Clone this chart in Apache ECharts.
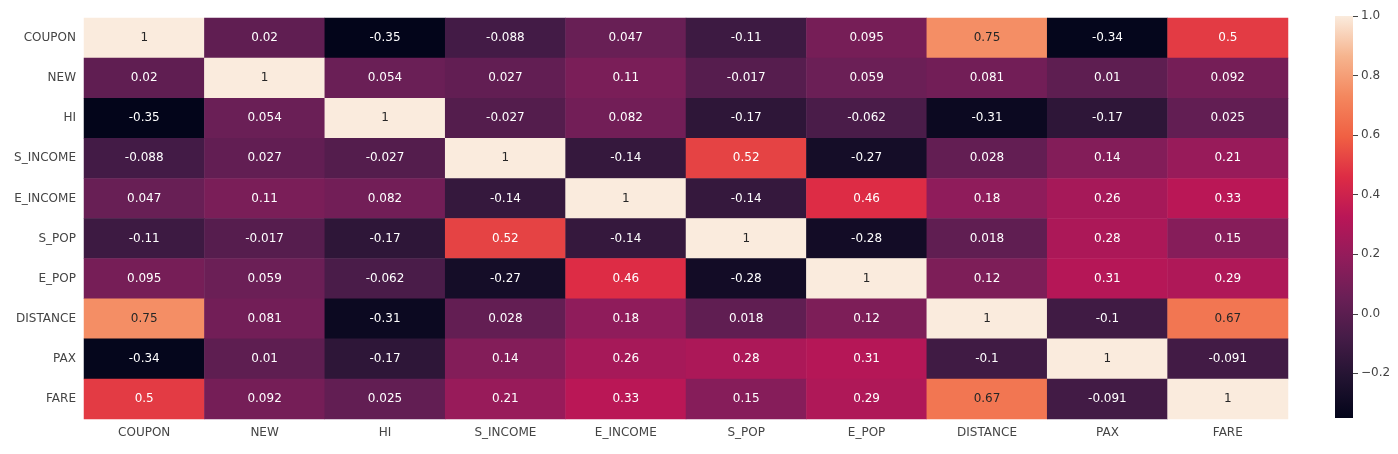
<!DOCTYPE html>
<html>
<head>
<meta charset="utf-8">
<script src="https://cdn.jsdelivr.net/npm/echarts@6/dist/echarts.min.js"></script>
<style>html,body{margin:0;background:#fff}#chart{width:1398px;height:454px}</style>
</head>
<body>
<div id="chart"></div>
<script>
const labels = ['COUPON', 'NEW', 'HI', 'S_INCOME', 'E_INCOME', 'S_POP', 'E_POP', 'DISTANCE', 'PAX', 'FARE'];
const corr = [
  [1, 0.02, -0.35, -0.088, 0.047, -0.11, 0.095, 0.75, -0.34, 0.5],
  [0.02, 1, 0.054, 0.027, 0.11, -0.017, 0.059, 0.081, 0.01, 0.092],
  [-0.35, 0.054, 1, -0.027, 0.082, -0.17, -0.062, -0.31, -0.17, 0.025],
  [-0.088, 0.027, -0.027, 1, -0.14, 0.52, -0.27, 0.028, 0.14, 0.21],
  [0.047, 0.11, 0.082, -0.14, 1, -0.14, 0.46, 0.18, 0.26, 0.33],
  [-0.11, -0.017, -0.17, 0.52, -0.14, 1, -0.28, 0.018, 0.28, 0.15],
  [0.095, 0.059, -0.062, -0.27, 0.46, -0.28, 1, 0.12, 0.31, 0.29],
  [0.75, 0.081, -0.31, 0.028, 0.18, 0.018, 0.12, 1, -0.1, 0.67],
  [-0.34, 0.01, -0.17, 0.14, 0.26, 0.28, 0.31, -0.1, 1, -0.091],
  [0.5, 0.092, 0.025, 0.21, 0.33, 0.15, 0.29, 0.67, -0.091, 1]
];
const barTicks = [-0.2, 0, 0.2, 0.4, 0.6, 0.8, 1.0];
const vmin = -0.35, vmax = 1;
const rocket = ['#03051a', '#221331', '#451c47', '#6a1f56', '#921c5b', '#b91657', '#dd2c45', '#f06043', '#f4875e', '#f6b48e', '#faebdd'];

const cells = [];
corr.forEach((row, i) => row.forEach((v, j) => {
  cells.push({value: [j, i, v], label: {color: v > 0.6 ? '#262626' : '#ffffff'}});
}));

const chart = echarts.init(document.getElementById('chart'));
const axisText = {color: '#444', fontSize: 12, fontFamily: 'DejaVu Sans'};
chart.setOption({
  backgroundColor: '#ffffff',
  grid: [
    {left: 84, right: 110, top: 18, bottom: 35},
    {left: 1335, width: 18, top: 16, bottom: 36}
  ],
  xAxis: [
    {type: 'category', data: labels, gridIndex: 0, axisLine: {show: false},
     axisTick: {length: 5, lineStyle: {color: '#444'}}, axisLabel: axisText, splitLine: {show: false}},
    {type: 'category', data: ['c'], gridIndex: 1, show: false}
  ],
  yAxis: [
    {type: 'category', data: labels, inverse: true, gridIndex: 0, axisLine: {show: false},
     axisTick: {length: 5, lineStyle: {color: '#444'}}, axisLabel: axisText},
    {type: 'value', gridIndex: 1, min: vmin, max: vmax, position: 'right',
     axisLine: {show: false}, splitLine: {show: false},
     axisTick: {show: true, length: 5, customValues: barTicks, lineStyle: {color: '#444'}},
     axisLabel: Object.assign({customValues: barTicks, formatter: v => v.toFixed(1).replace('-', '\u2212')}, axisText)}
  ],
  visualMap: {
    show: false, min: vmin, max: vmax, seriesIndex: 0, dimension: 2,
    inRange: {color: rocket}
  },
  series: [
    {
      type: 'heatmap', xAxisIndex: 0, yAxisIndex: 0, data: cells,
      label: {show: true, fontSize: 12, fontFamily: 'DejaVu Sans', formatter: p => String(p.value[2])}
    },
    {
      type: 'custom', xAxisIndex: 1, yAxisIndex: 1, data: [[0, vmin, vmax]], silent: true,
      renderItem: (params, api) => {
        const bottom = api.coord([0, api.value(1)]);
        const top = api.coord([0, api.value(2)]);
        const w = api.size([1, 0])[0];
        return {
          type: 'rect',
          shape: {x: top[0] - w / 2, y: top[1], width: w, height: bottom[1] - top[1]},
          style: {fill: new echarts.graphic.LinearGradient(0, 1, 0, 0,
            rocket.map((c, k) => ({offset: k / (rocket.length - 1), color: c})))}
        };
      }
    }
  ]
});
</script>
</body>
</html>
